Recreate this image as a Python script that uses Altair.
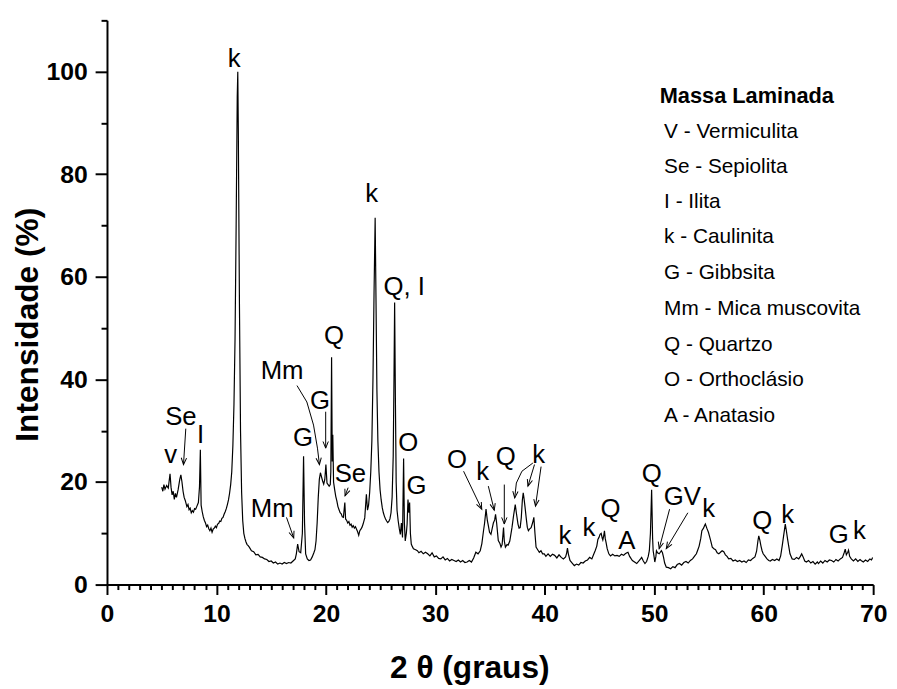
import math
import altair as alt
import pandas as pd

# ---- XRD pattern (2theta, intensity %) ----
seg_a = [
    (5.0, 19.0), (5.1, 18.2), (5.2, 19.5), (5.3, 18.6), (5.45, 19.3), (5.6, 18.8), (5.76, 21.6),
    (5.85, 19.0), (5.95, 17.5), (6.05, 18.2), (6.15, 16.6), (6.25, 17.8), (6.35, 17.0), (6.5, 18.5),
    (6.65, 20.5), (6.75, 21.4), (6.85, 20.0), (6.95, 18.2), (7.05, 17.0), (7.15, 16.4), (7.3, 15.2),
    (7.4, 15.6), (7.5, 14.6), (7.6, 14.9), (7.7, 14.0), (7.8, 14.4), (7.9, 14.1), (8.0, 14.8),
    (8.1, 14.7), (8.2, 15.2), (8.35, 16.0), (8.45, 19.0), (8.53, 26.3), (8.6, 15.5), (8.7, 14.2),
    (8.8, 13.2), (8.9, 12.5), (9.0, 12.0), (9.1, 11.3), (9.2, 11.6), (9.3, 10.9), (9.4, 10.5),
    (9.5, 11.0), (9.6, 10.2), (9.7, 10.8), (9.8, 11.0), (9.9, 11.4), (10.0, 11.1), (10.1, 11.8),
    (10.2, 11.9), (10.3, 12.4), (10.4, 12.3), (10.5, 12.9), (10.6, 13.1), (10.7, 13.7), (10.8, 14.2),
    (10.9, 14.8), (11.0, 15.6), (11.1, 16.5), (11.2, 17.8), (11.3, 19.5), (11.4, 22.0), (11.5, 27.0),
    (11.6, 35.0), (11.7, 48.0), (11.8, 70.0), (11.9, 95.0), (11.95, 100.0), (12.0, 88.0), (12.1, 55.0),
    (12.2, 30.0), (12.3, 18.0), (12.4, 12.5), (12.5, 10.0), (12.6, 9.0), (12.7, 8.3), (12.8, 7.8),
    (12.9, 7.6), (13.0, 7.3), (13.2, 6.6), (13.4, 6.4), (13.6, 5.8), (13.8, 5.9), (14.0, 5.4),
    (14.2, 5.3), (14.4, 5.0), (14.6, 4.9), (14.8, 4.5), (15.0, 4.6), (15.2, 4.2), (15.4, 4.4),
    (15.6, 4.0), (15.8, 4.2), (16.0, 4.0), (16.2, 4.3), (16.4, 4.1), (16.6, 4.3), (16.8, 4.2),
    (17.0, 4.6), (17.2, 5.0), (17.3, 6.0), (17.42, 7.9), (17.55, 6.4), (17.7, 6.2), (17.85, 10.0),
    (17.96, 25.0), (18.05, 12.0), (18.15, 6.0), (18.3, 5.0), (18.45, 4.7), (18.6, 4.8), (18.75, 5.4),
    (18.9, 6.2), (19.0, 6.8), (19.1, 8.5), (19.2, 12.0), (19.3, 16.9), (19.4, 20.5), (19.5, 21.8),
    (19.6, 21.0), (19.7, 20.2), (19.8, 19.6), (19.9, 20.5),
]
seg_b = [
    (20.0, 23.4), (20.1, 19.8), (20.2, 19.5), (20.3, 19.2), (20.4, 19.5), (20.45, 22.0), (20.52, 44.3),
    (20.58, 24.0), (20.63, 29.2), (20.7, 20.0), (20.8, 18.5), (20.9, 17.2), (21.0, 16.3), (21.1, 15.2),
    (21.2, 14.6), (21.3, 14.0), (21.4, 13.8), (21.5, 13.2), (21.6, 13.1), (21.73, 16.0), (21.8, 12.8),
    (21.9, 12.5), (22.0, 12.0), (22.1, 12.3), (22.2, 11.6), (22.3, 11.8), (22.4, 11.2), (22.5, 11.5),
    (22.6, 11.0), (22.7, 11.3), (22.8, 10.8), (22.9, 10.3), (23.0, 9.6), (23.1, 10.5), (23.2, 10.8),
    (23.3, 11.2), (23.4, 11.8), (23.55, 13.0), (23.7, 17.6), (23.8, 14.5), (23.9, 15.5), (24.0, 18.0),
    (24.1, 22.0), (24.2, 28.0), (24.3, 40.0), (24.4, 57.0), (24.5, 71.5), (24.58, 55.0), (24.66, 38.0),
    (24.75, 28.0), (24.85, 22.0), (24.95, 18.5), (25.05, 16.5), (25.15, 15.0), (25.25, 14.0),
    (25.35, 13.3), (25.45, 12.8), (25.55, 12.4), (25.65, 12.1), (25.75, 12.3), (25.85, 12.8),
    (25.95, 14.0), (26.05, 17.0), (26.15, 25.0), (26.22, 40.0), (26.28, 55.0), (26.35, 36.0),
    (26.42, 20.0), (26.5, 14.5), (26.6, 12.5), (26.7, 11.0), (26.8, 9.8), (26.9, 12.0), (27.0, 9.2),
    (27.1, 24.6), (27.17, 12.0), (27.25, 8.5), (27.35, 10.0), (27.42, 11.8), (27.5, 16.6), (27.58, 14.0),
    (27.65, 16.0), (27.72, 10.0), (27.8, 7.9), (27.9, 7.4), (28.0, 7.0), (28.2, 6.8), (28.36, 6.6),
    (28.5, 6.2), (28.7, 6.5), (28.9, 6.0), (29.1, 6.3), (29.3, 6.0), (29.5, 5.6), (29.7, 6.2),
    (29.9, 5.4), (30.1, 5.6), (30.3, 5.1), (30.5, 5.0), (30.7, 5.4), (30.9, 4.8), (31.1, 5.1),
    (31.3, 4.6), (31.5, 4.9), (31.7, 4.7), (31.9, 4.5), (32.1, 4.8), (32.3, 4.4), (32.5, 4.7),
    (32.7, 4.3), (32.9, 4.4), (33.1, 4.7), (33.3, 4.4), (33.5, 5.2), (33.7, 6.3), (33.9, 6.0),
    (34.1, 6.6), (34.25, 8.0), (34.4, 10.5), (34.5, 12.0), (34.63, 14.7), (34.75, 12.5), (34.85, 11.4),
    (34.95, 10.2),
]
seg_c = [
    (35.08, 9.8), (35.2, 11.0), (35.3, 12.0), (35.42, 12.6), (35.5, 13.7), (35.6, 12.0), (35.75, 8.6),
    (35.9, 8.0), (36.0, 7.3), (36.1, 7.8), (36.23, 11.1), (36.3, 8.5), (36.4, 7.3), (36.55, 7.8),
    (36.65, 7.7), (36.8, 8.5), (36.9, 9.8), (37.0, 11.1), (37.15, 13.5), (37.3, 15.6), (37.4, 14.0),
    (37.55, 11.8), (37.65, 11.0), (37.75, 11.1), (37.85, 13.0), (37.95, 16.5), (38.03, 17.9),
    (38.1, 16.8), (38.2, 15.0), (38.3, 13.0), (38.4, 11.2), (38.5, 10.5), (38.6, 10.8), (38.75, 11.1),
    (38.88, 12.0), (39.0, 13.1), (39.1, 10.0), (39.2, 7.3), (39.35, 6.8), (39.5, 6.3), (39.65, 6.6),
    (39.8, 6.0), (39.95, 6.0), (40.1, 5.5), (40.3, 6.0), (40.5, 5.5), (40.7, 5.9), (40.9, 5.7),
    (41.1, 5.2), (41.3, 5.8), (41.5, 5.3), (41.7, 5.0), (41.9, 5.4), (42.0, 6.2), (42.07, 7.1),
    (42.15, 6.0), (42.3, 4.7), (42.5, 4.2), (42.7, 3.7), (42.9, 4.0), (43.1, 3.8), (43.3, 4.3),
    (43.5, 4.2), (43.7, 4.6), (43.9, 4.8), (44.1, 5.3), (44.3, 5.0), (44.45, 5.8), (44.6, 6.6),
    (44.75, 7.5), (44.85, 8.8), (44.95, 9.2), (45.05, 9.8), (45.15, 10.0), (45.25, 9.0), (45.3, 8.7),
    (45.38, 9.5), (45.45, 10.5), (45.52, 9.0), (45.6, 8.2), (45.7, 7.0), (45.85, 6.0), (46.0, 5.6),
    (46.2, 5.9), (46.4, 5.6), (46.6, 5.7), (46.8, 5.5), (47.0, 5.9), (47.2, 5.7), (47.35, 6.0),
    (47.5, 6.2), (47.6, 6.3), (47.75, 5.5), (47.9, 5.0), (48.0, 4.7), (48.2, 4.4), (48.4, 4.1),
    (48.6, 4.6), (48.75, 5.0), (48.85, 5.3), (49.0, 4.6), (49.15, 4.1), (49.3, 4.5), (49.45, 5.5),
    (49.55, 6.6), (49.65, 10.0), (49.76, 18.5), (49.85, 9.0), (49.9, 6.6),
]
seg_d = [
    (50.0, 5.2), (50.05, 4.4), (50.15, 5.5), (50.2, 6.6), (50.3, 6.2), (50.45, 6.0), (50.55, 6.3),
    (50.65, 6.6), (50.75, 6.2), (50.85, 5.3), (50.95, 4.2), (51.1, 3.4), (51.3, 3.3), (51.5, 3.1),
    (51.7, 3.5), (51.9, 3.3), (52.1, 3.9), (52.3, 4.1), (52.5, 3.8), (52.7, 4.3), (52.9, 4.5),
    (53.1, 4.2), (53.3, 4.7), (53.5, 5.0), (53.7, 5.6), (53.85, 6.0), (53.95, 6.6), (54.1, 7.5),
    (54.25, 9.0), (54.35, 10.5), (54.5, 11.0), (54.6, 11.5), (54.67, 11.8), (54.8, 11.0), (54.95, 10.2),
    (55.1, 9.0), (55.2, 8.2), (55.3, 7.3), (55.45, 7.0), (55.6, 6.8), (55.75, 6.2), (55.9, 6.0),
    (56.05, 6.3), (56.2, 6.6), (56.35, 6.4), (56.5, 5.8), (56.65, 5.5), (56.8, 5.0), (57.0, 5.1),
    (57.2, 4.6), (57.4, 4.8), (57.6, 4.5), (57.8, 4.7), (58.0, 4.4), (58.2, 4.6), (58.4, 4.3),
    (58.6, 4.8), (58.8, 4.7), (59.0, 5.1), (59.2, 5.4), (59.35, 6.5), (59.47, 8.5), (59.55, 9.5),
    (59.65, 8.6), (59.75, 7.5), (59.85, 6.6), (59.95, 6.0), (60.1, 5.6), (60.3, 5.0), (60.46, 4.7),
    (60.6, 4.6), (60.8, 4.9), (61.0, 4.7), (61.2, 5.0), (61.4, 4.7), (61.55, 5.6), (61.7, 7.7),
    (61.85, 10.0), (61.97, 11.8), (62.07, 10.5), (62.17, 9.0), (62.27, 7.7), (62.4, 6.0), (62.6, 5.0),
    (62.8, 4.9), (63.0, 5.3), (63.2, 5.0), (63.35, 5.5), (63.47, 6.0), (63.6, 5.4), (63.75, 4.6),
    (63.9, 4.4), (64.1, 4.7), (64.3, 4.2), (64.5, 4.5), (64.7, 4.0), (64.9, 4.4), (65.0, 4.1),
    (65.2, 4.6), (65.4, 4.2), (65.6, 4.7), (65.8, 4.4), (66.0, 4.8), (66.2, 4.7), (66.4, 4.4),
    (66.6, 4.9), (66.8, 4.6), (67.0, 5.0), (67.2, 5.3), (67.35, 6.2), (67.45, 6.9), (67.55, 5.8),
    (67.6, 6.0), (67.68, 6.3), (67.75, 6.7), (67.85, 5.5), (68.0, 5.0), (68.2, 4.6), (68.4, 5.0),
    (68.6, 4.5), (68.8, 4.9), (68.9, 4.7), (69.1, 4.4), (69.3, 4.8), (69.5, 4.5), (69.7, 5.0),
    (69.85, 4.8), (69.95, 5.3),
]

# ---- peak labels: text, 2theta (centre), intensity (baseline) ----
peak_labels = [
    ("v", 5.82, 23.7), ("Se", 6.75, 31.1), ("I", 8.56, 27.7), ("k", 11.63, 100.9),
    ("Mm", 15.1, 13.1), ("G", 17.9, 27.1), ("Mm", 16.0, 40.1), ("G", 19.47, 34.3),
    ("Q", 20.74, 46.9), ("Se", 22.24, 20.0), ("k", 24.19, 74.5), ("Q, I", 27.16, 56.5),
    ("O", 27.52, 26.1), ("G", 28.27, 17.6), ("O", 31.98, 22.7), ("k", 34.33, 20.3),
    ("Q", 36.44, 23.4), ("k", 39.45, 23.7), ("k", 41.83, 7.9), ("k", 44.03, 9.5),
    ("Q", 46.0, 13.1), ("A", 47.5, 6.9), ("Q", 49.76, 20.0), ("GV", 52.56, 15.6),
    ("k", 54.97, 13.1), ("Q", 59.86, 10.8), ("k", 62.2, 12.1), ("G", 66.85, 8.2),
    ("k", 68.75, 8.8),
]

# ---- arrows: list of polylines (2theta, intensity), last point is the tip ----
arrows = [
    [(7.2, 30.4), (6.99, 23.4)],
    [(16.4, 13.1), (17.06, 9.1)],
    [(17.36, 38.8), (18.26, 35.6), (18.87, 31.1), (19.23, 26.6), (19.41, 23.4)],
    [(19.98, 33.7), (19.98, 26.6)],
    [(22.03, 18.9), (21.75, 17.3)],
    [(32.58, 22.1), (34.24, 14.7)],
    [(34.84, 19.2), (35.38, 14.5)],
    [(36.3, 19.5), (36.3, 11.8)],
    [(38.91, 23.7), (37.91, 22.1), (37.4, 19.8), (37.25, 16.9)],
    [(39.06, 23.4), (38.46, 19.2)],
    [(39.66, 23.0), (39.15, 15.3)],
    [(51.4, 14.7), (50.45, 7.0)],
    [(53.07, 14.0), (51.1, 7.0)],
]

# ---- legend block ----
legend_title = ("Massa Laminada", 50.5, 93.8)
legend_items = [
    ("V - Vermiculita", 87.1), ("Se - Sepiolita", 80.2), ("I - Ilita", 73.4),
    ("k - Caulinita", 66.5), ("G - Gibbsita", 59.5), ("Mm - Mica muscovita", 52.6),
    ("Q - Quartzo", 45.6), ("O - Orthoclásio", 38.7), ("A - Anatasio", 31.7),
]
legend_x = 50.9

X_MAX, Y_MAX = 70, 110
W, H = 774, 570
FONT = "Arial, Liberation Sans, sans-serif"

pattern = pd.DataFrame(seg_a + seg_b + seg_c + seg_d, columns=["tt", "inten"])
labels_df = pd.DataFrame(peak_labels, columns=["txt", "tt", "inten"])

rows, heads = [], []
sx, sy = W / X_MAX, H / Y_MAX
for i, pts in enumerate(arrows):
    for j, (a, b) in enumerate(pts):
        rows.append({"id": i, "ord": j, "tt": a, "inten": b})
    (x0, y0), (x1, y1) = pts[-2], pts[-1]
    dx, dy = (x1 - x0) * sx, -(y1 - y0) * sy
    ang = math.degrees(math.atan2(-dx, dy)) % 360
    heads.append({"tt": x1, "inten": y1, "ang": ang})
arrow_df = pd.DataFrame(rows)
head_df = pd.DataFrame(heads)

leg_df = pd.DataFrame(
    [{"txt": legend_title[0], "tt": legend_title[1], "inten": legend_title[2], "bold": "bold"}]
    + [{"txt": t, "tt": legend_x, "inten": v, "bold": "normal"} for t, v in legend_items]
)

xs = alt.Scale(domain=[0, X_MAX], nice=False)
ys = alt.Scale(domain=[0, Y_MAX], nice=False)

x_axis = alt.Axis(
    title="2 θ (graus)", values=list(range(0, 71)), tickCount=500, format="d",
    labelExpr="datum.value % 10 === 0 ? datum.label : ''",
    tickSize={"condition": {"test": "datum.value % 10 === 0", "value": 10}, "value": 5},
    tickWidth=2, tickColor="black", domainWidth=2, domainColor="black",
    labelFont=FONT, labelFontSize=25, labelFontWeight="bold", labelColor="black",
    labelPadding=7, labelFlush=False, labelOverlap=False, grid=False,
    titleFont=FONT, titleFontSize=32, titleFontWeight="bold", titleColor="black",
    titleX=366, titleY=94, titleBaseline="alphabetic", titleAlign="center",
)
y_axis = alt.Axis(
    title="Intensidade (%)", values=list(range(0, 111, 10)), tickCount=500, format="d",
    labelExpr="(datum.value % 20 === 0 && datum.value <= 100) ? datum.label : ''",
    tickSize={"condition": {"test": "datum.value % 20 === 0", "value": 12}, "value": 6},
    tickWidth=2, tickColor="black", domainWidth=2, domainColor="black",
    labelFont=FONT, labelFontSize=25, labelFontWeight="bold", labelColor="black",
    labelPadding=8, labelFlush=False, labelOverlap=False, grid=False,
    titleFont=FONT, titleFontSize=32, titleFontWeight="bold", titleColor="black",
    titleX=-80, titleY=307, titleAngle=270, titleBaseline="middle", titleAlign="center",
)

line = alt.Chart(pattern).mark_line(color="black", strokeWidth=1.2, clip=True).encode(
    x=alt.X("tt:Q", scale=xs, axis=x_axis),
    y=alt.Y("inten:Q", scale=ys, axis=y_axis),
    order="tt:Q",
)

arrow_lines = alt.Chart(arrow_df).mark_line(color="black", strokeWidth=1).encode(
    x=alt.X("tt:Q", scale=xs), y=alt.Y("inten:Q", scale=ys),
    detail="id:N", order="ord:Q",
)

arrow_heads = alt.Chart(head_df).mark_point(
    shape="M-0.4,-1L0,0L0.4,-1", size=180, filled=False, color="black",
    strokeWidth=1, opacity=1,
).encode(
    x=alt.X("tt:Q", scale=xs), y=alt.Y("inten:Q", scale=ys),
    angle=alt.Angle("ang:Q", scale=None),
)

text = alt.Chart(labels_df).mark_text(
    font=FONT, fontSize=26, color="black", align="center", baseline="alphabetic",
).encode(x=alt.X("tt:Q", scale=xs), y=alt.Y("inten:Q", scale=ys), text="txt:N")

leg_title = alt.Chart(leg_df[leg_df.bold == "bold"]).mark_text(
    font=FONT, fontSize=22, fontWeight="bold", color="black", align="left", baseline="alphabetic",
).encode(x=alt.X("tt:Q", scale=xs), y=alt.Y("inten:Q", scale=ys), text="txt:N")

leg_items = alt.Chart(leg_df[leg_df.bold == "normal"]).mark_text(
    font=FONT, fontSize=21, color="black", align="left", baseline="alphabetic",
).encode(x=alt.X("tt:Q", scale=xs), y=alt.Y("inten:Q", scale=ys), text="txt:N")

chart = alt.layer(line, arrow_lines, arrow_heads, text, leg_title, leg_items).properties(
    width=W, height=H,
    autosize=alt.AutoSizeParams(type="none"),
    padding={"left": 100, "top": 9, "right": 16, "bottom": 102},
    background="white",
).configure_view(stroke=None)

chart.save("out.html", embed_options={"renderer": "svg", "actions": False})
